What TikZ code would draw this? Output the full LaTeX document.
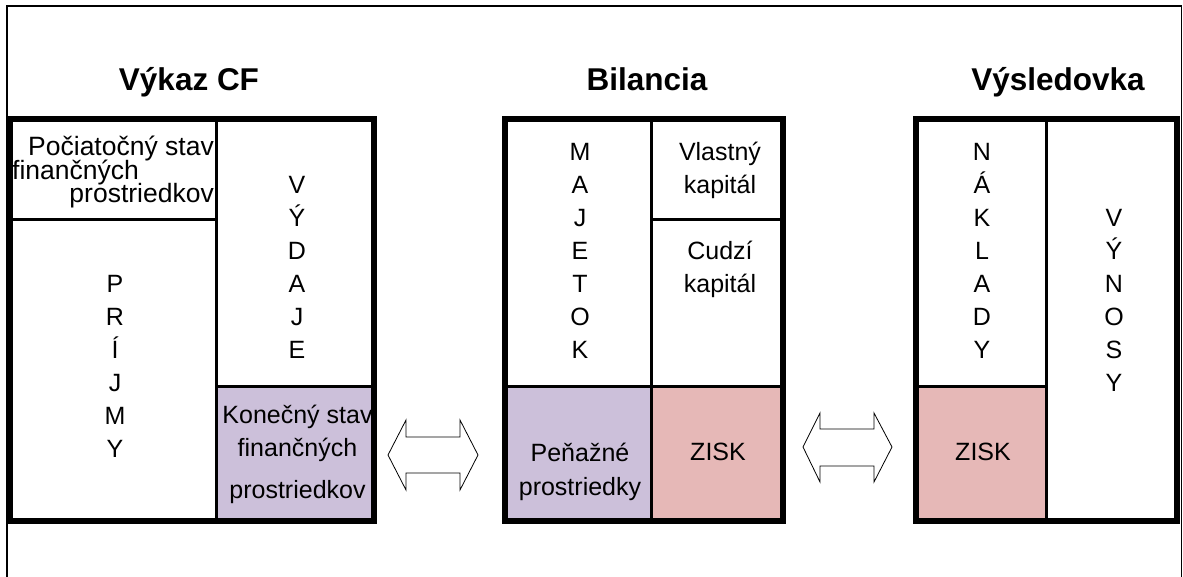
\documentclass[tikz,border=0pt]{standalone}
\usepackage{fontspec}
\setmainfont{Liberation Sans}
\definecolor{lav}{RGB}{204,192,218}
\definecolor{rose}{RGB}{230,184,183}
\begin{document}
\begin{tikzpicture}[x=1pt,y=-1pt,
  frame/.style={line width=1.5pt},
  outer/.style={line width=6pt},
  inner/.style={line width=3pt},
  txt/.style={font=\fontsize{25}{33}\selectfont, inner sep=0pt, anchor=base},
  txtb/.style={font=\fontsize{26.5}{33}\selectfont, inner sep=0pt},
  ttl/.style={font=\bfseries\fontsize{31.5}{36}\selectfont, inner sep=0pt, anchor=base},
  barrow/.style={draw=black, line width=0.8pt, fill=white, line join=miter}]
\useasboundingbox (0,0) rectangle (1183,576);
% outer frame
\draw[frame] (7,600) -- (7,6) -- (1181.5,6) -- (1181.5,600);
% titles
\node[ttl] (t1) at (189,90) {Výkaz CF};
\node[ttl] (t2) at (647,90) {Bilancia};
\node[ttl] (t3) at (1058,90) {Výsledovka};
% fills
\fill[lav] (216.5,386) rectangle (374,521);
\fill[lav] (505,386) rectangle (651.5,521);
\fill[rose] (651.5,386) rectangle (783,521);
\fill[rose] (915.5,386) rectangle (1046,521);
% left table
\draw[inner] (216.5,118.5) -- (216.5,521);
\draw[inner] (10,219) -- (216.5,219);
\draw[inner] (216.5,386) -- (374,386);
\draw[outer] (10,118.5) rectangle (374,521);
% middle table
\draw[inner] (651.5,118.5) -- (651.5,521);
\draw[inner] (651.5,219) -- (783,219);
\draw[inner] (505,386) -- (783,386);
\draw[outer] (505,118.5) rectangle (783,521);
% right table
\draw[inner] (1046,118.5) -- (1046,521);
\draw[inner] (915.5,386) -- (1046,386);
\draw[outer] (915.5,118.5) rectangle (1177,521);
% left table texts
\node[txtb, anchor=base east] (ps1) at (214,155) {Počiatočný stav};
\node[txtb, anchor=base west] (ps2) at (12,179) {finančných};
\node[txtb, anchor=base east] (ps3) at (214,202) {prostriedkov};
\foreach \l [count=\i] in {P,R,Í,J,M,Y}
  \node[txt] (pr\i) at (115,{292+33*(\i-1)}) {\l};
\foreach \l [count=\i] in {V,Ý,D,A,J,E}
  \node[txt] (vy\i) at (297,{193+33*(\i-1)}) {\l};
\node[txt] (ks1) at (297.5,423) {Konečný stav};
\node[txt] (ks2) at (297.5,456) {finančných};
\node[txt] (ks3) at (297.5,498) {prostriedkov};
% middle texts
\foreach \l [count=\i] in {M,A,J,E,T,O,K}
  \node[txt] (ma\i) at (580,{160+33*(\i-1)}) {\l};
\node[txt] (vk1) at (720,160) {Vlastný};
\node[txt] (vk2) at (720,193) {kapitál};
\node[txt] (ck1) at (720,259) {Cudzí};
\node[txt] (ck2) at (720,292) {kapitál};
\node[txt] (pp1) at (580,461) {Peňažné};
\node[txt] (pp2) at (580,495) {prostriedky};
\node[txt] (z1) at (718,460) {ZISK};
% right texts
\foreach \l [count=\i] in {N,Á,K,L,A,D,Y}
  \node[txt] (na\i) at (982,{160+33*(\i-1)}) {\l};
\foreach \l [count=\i] in {V,Ý,N,O,S,Y}
  \node[txt] (vn\i) at (1114,{226+33*(\i-1)}) {\l};
\node[txt] (z2) at (983,460) {ZISK};
% double arrows
\draw[barrow] (388,455) -- (406,420) -- (406,437) -- (460,437) -- (460,420) -- (478,455)
  -- (460,490) -- (460,473) -- (406,473) -- (406,490) -- cycle;
\draw[barrow] (803,447) -- (820,413) -- (820,429) -- (874,429) -- (874,413) -- (892,447)
  -- (874,482) -- (874,466) -- (820,466) -- (820,482) -- cycle;
\end{tikzpicture}
\end{document}
